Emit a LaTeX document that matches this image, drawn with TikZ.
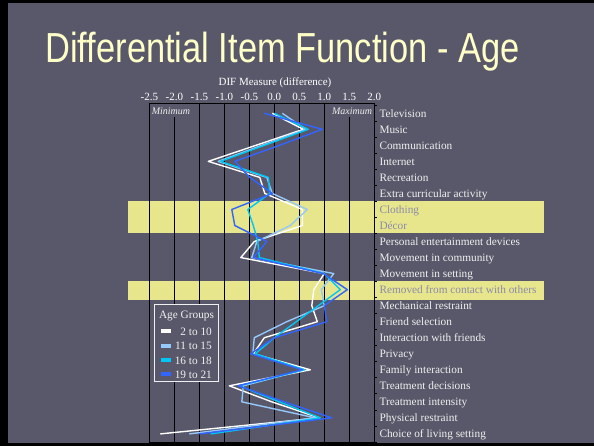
\documentclass[tikz,border=0pt]{standalone}
\usepackage{fontspec}
\setmainfont{Liberation Serif}
\newfontfamily\titlefont[FakeStretch=0.82]{Liberation Sans}
\definecolor{bgc}{RGB}{88,88,106}
\definecolor{titlec}{RGB}{255,255,200}
\definecolor{bandc}{RGB}{232,230,140}
\definecolor{hilab}{RGB}{138,138,170}
\definecolor{labc}{RGB}{240,240,240}
\definecolor{sWhite}{RGB}{255,255,255}
\definecolor{sLight}{RGB}{150,200,250}
\definecolor{sCyan}{RGB}{0,200,245}
\definecolor{sBlue}{RGB}{50,100,255}
\newcommand\dataline[3]{%
  \draw[dline,#1] ({274.3+50*(#2)},113.3)
    \foreach \v [count=\i] in {#3} { -- ({274.3+50*(\v)},{113.3+16.03*\i}) };}
\begin{document}
\begin{tikzpicture}[x=1pt,y=-1pt,
  grid/.style={black,line width=0.9pt},
  dline/.style={line width=1.4pt,line join=round},
  itemlab/.style={anchor=base west,inner sep=0pt,font=\fontsize{11.3}{12}\selectfont,text=labc},
  hitem/.style={itemlab,text=hilab},
  ticklab/.style={anchor=base,inner sep=0pt,font=\fontsize{11}{12}\selectfont,text=white},
  edgelab/.style={anchor=base,inner sep=0pt,font=\fontsize{10}{12}\selectfont\itshape,text=labc},
  leglab/.style={anchor=base east,inner sep=0pt,font=\fontsize{11.3}{12}\selectfont,text=labc},
  swatch/.style={minimum width=10pt,minimum height=4pt,inner sep=0pt}]
\useasboundingbox (0,0) rectangle (594,446);
\fill[black] (0,0) rectangle (594,446);
\fill[bgc] (8,3.5) rectangle (594,443.3);
% title
\node[anchor=base,inner sep=0pt,text=titlec,font=\titlefont\fontsize{42}{46}\selectfont] (title) at (282.5,62.7) {Differential Item Function - Age};
% highlight bands
\fill[bandc] (128,201.5) rectangle (543.5,233.5);
\fill[bandc] (128,281) rectangle (543.5,299.5);
% axis title and ticks
\node[ticklab] (axt) at (275,85.3) {DIF Measure (difference)};
\foreach \t [count=\k from 0] in {-2.5,-2.0,-1.5,-1.0,-0.5,0.0,0.5,1.0,1.5,2.0}
  \node[ticklab] (tk\k) at ({149.3+25*\k},100.5) {\t};
% grid
\foreach \k in {0,2,3,4,5,6,7,9}
  \draw[grid] ({149.3+25*\k},103) -- ({149.3+25*\k},442);
\foreach \k in {1,8}
  \draw[grid] ({149.3+25*\k},117.5) -- ({149.3+25*\k},442);
\draw[grid] (149.3,103) -- (374.3,103);
\draw[grid] (149.3,442) -- (374.3,442);
\foreach \i in {0,...,21}
  \draw[black,line width=0.7pt] (374.3,{105.3+16.03*\i}) -- (376.8,{105.3+16.03*\i});
\node[edgelab] (minl) at (171,114.3) {Minimum};
\node[edgelab] (maxl) at (352,114.3) {Maximum};
% data series
\dataline{sWhite}{-0.04}{0.58,-0.37,-1.32,-0.29,-0.19,0.56,0.56,-0.40,-0.67,1.00,0.79,0.75,0.86,-0.20,-0.42,0.72,-0.90,-0.05,0.90,-2.28}
\dataline{sLight}{0.16}{0.63,-0.25,-1.12,-0.15,-0.04,0.66,0.32,-0.35,-0.45,1.19,0.94,1.00,0.25,-0.40,-0.43,0.60,-0.62,-0.65,0.82,-1.70}
\dataline{sCyan}{0.00}{0.68,-0.20,-1.08,-0.12,-0.09,-0.53,-0.42,-0.33,-0.30,1.00,1.32,0.88,0.44,0.00,-0.38,0.60,-0.70,0.10,0.92,-1.27}
\dataline{sBlue}{-0.20}{0.96,0.10,-0.79,-0.49,-0.04,-0.85,-0.79,-0.15,-0.42,0.98,1.46,1.00,1.05,0.00,-0.47,0.56,-0.72,0.20,1.15,-1.50}
% item labels
\foreach \s [count=\i from 0] in {Television,Music,Communication,Internet,Recreation,Extra curricular activity}
  \node[itemlab] (it\i) at (379.3,{117.3+16.03*\i}) {\s};
\node[hitem] (it6) at (379.3,{117.3+16.03*6}) {Clothing};
\node[hitem] (it7) at (379.3,{117.3+16.03*7}) {Décor};
\foreach \s [count=\i from 8] in {Personal entertainment devices,Movement in community,Movement in setting}
  \node[itemlab] (it\i) at (379.3,{117.3+16.03*\i}) {\s};
\node[hitem] (it11) at (379.3,{117.3+16.03*11}) {Removed from contact with others};
\foreach \s [count=\i from 12] in {Mechanical restraint,Friend selection,Interaction with friends,Privacy,Family interaction,Treatment decisions,Treatment intensity,Physical restraint,Choice of living setting}
  \node[itemlab] (it\i) at (379.3,{117.3+16.03*\i}) {\s};
% legend
\draw[fill=bgc,draw=labc,line width=0.7pt] (154.3,304.3) rectangle (218.7,381.7);
\node[ticklab,text=labc,font=\fontsize{11.3}{12}\selectfont] (legt) at (186.5,318.3) {Age Groups};
\node[swatch,fill=sWhite] (sw1) at (166,331) {};
\node[swatch,fill=sLight] (sw2) at (166,345.5) {};
\node[swatch,fill=sCyan] (sw3) at (166,360) {};
\node[swatch,fill=sBlue] (sw4) at (166,374) {};
\node[leglab] (lg1) at (212,335) {2 to 10};
\node[leglab] (lg2) at (212,349.5) {11 to 15};
\node[leglab] (lg3) at (212,364) {16 to 18};
\node[leglab] (lg4) at (212,378) {19 to 21};
\end{tikzpicture}
\end{document}
